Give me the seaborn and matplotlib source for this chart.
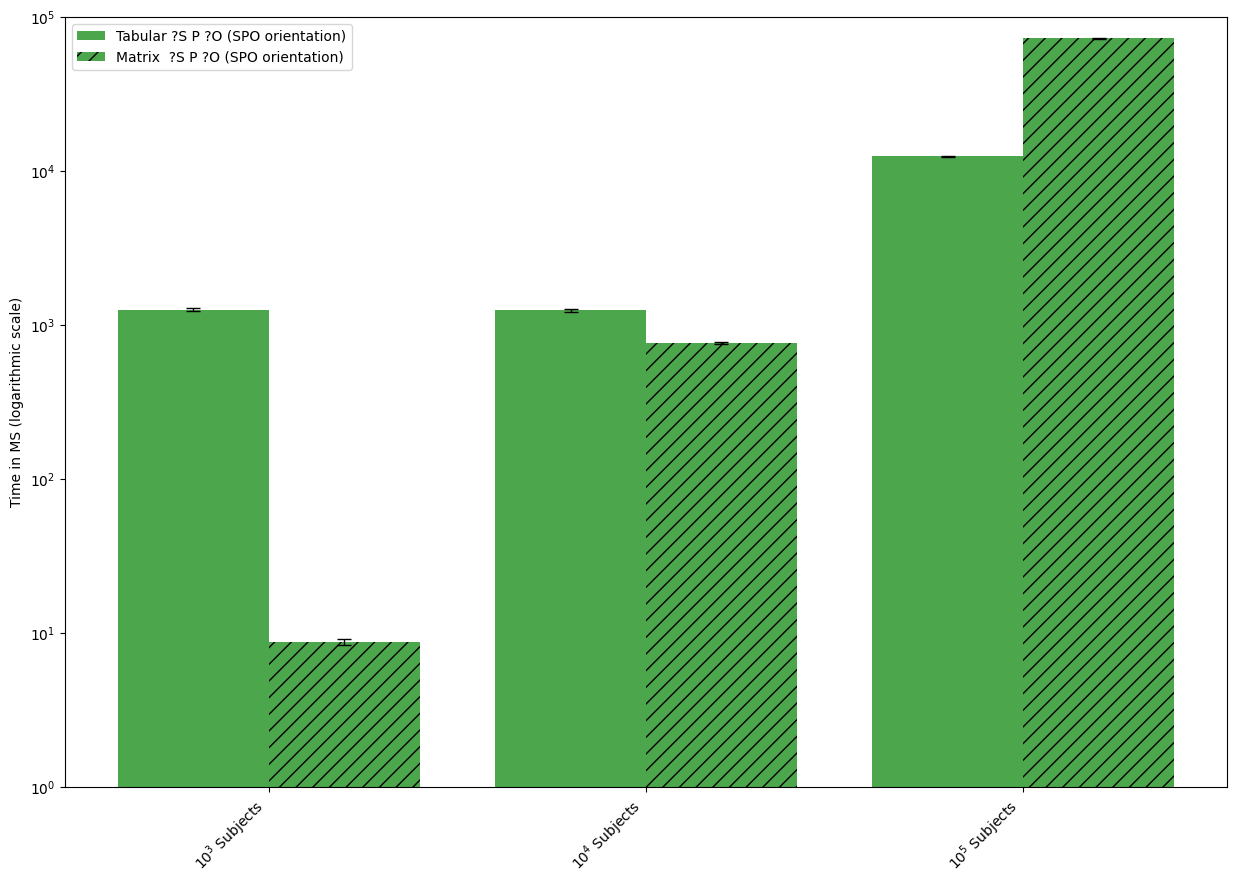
import matplotlib
matplotlib.use("Agg")
import matplotlib.pyplot as plt
import matplotlib.ticker as mticker
import seaborn as sns
import pandas as pd
import numpy as np

categories = ["$10^3$ Subjects", "$10^4$ Subjects", "$10^5$ Subjects"]
series = ["Tabular ?S P ?O (SPO orientation)", "Matrix  ?S P ?O (SPO orientation)"]
tabular_vals = [1250, 1240, 12450]
matrix_vals = [8.7, 760, 72500]
tabular_err = [30, 30, 120]
matrix_err = [0.35, 15, 600]

df = pd.DataFrame({
    "cat": categories * 2,
    "val": tabular_vals + matrix_vals,
    "series": [series[0]] * 3 + [series[1]] * 3,
})

fig, ax = plt.subplots(figsize=(12.37, 8.85), dpi=100)
sns.barplot(data=df, x="cat", y="val", hue="series", hue_order=series,
            palette=["#4ca64c", "#4ca64c"], saturation=1, errorbar=None,
            width=0.8, ax=ax, linewidth=0)
ax.set_yscale("log")

conts = ax.containers
for p in conts[1]:
    p.set_hatch("//")
    p.set_edgecolor("black")
    p.set_linewidth(0)

for cont, errs in zip(conts, [tabular_err, matrix_err]):
    xs = [p.get_x() + p.get_width() / 2 for p in cont]
    ys = [p.get_height() for p in cont]
    ax.errorbar(xs, ys, yerr=errs, fmt="none", ecolor="black", capsize=5, elinewidth=1)

ax.set_ylim(1, 1e5)
ax.set_xlim(-0.54, 2.54)
ax.yaxis.set_minor_locator(mticker.NullLocator())
ax.set_xlabel("")
ax.set_ylabel("Time in MS (logarithmic scale)")
plt.setp(ax.get_xticklabels(), rotation=45, ha="right")
leg = ax.get_legend()
if leg:
    leg.remove()
ax.legend([conts[0], conts[1]], series, loc="upper left")

fig.subplots_adjust(left=0.0525, right=0.992, top=0.981, bottom=0.111)
fig.savefig("out.png", dpi=100)
